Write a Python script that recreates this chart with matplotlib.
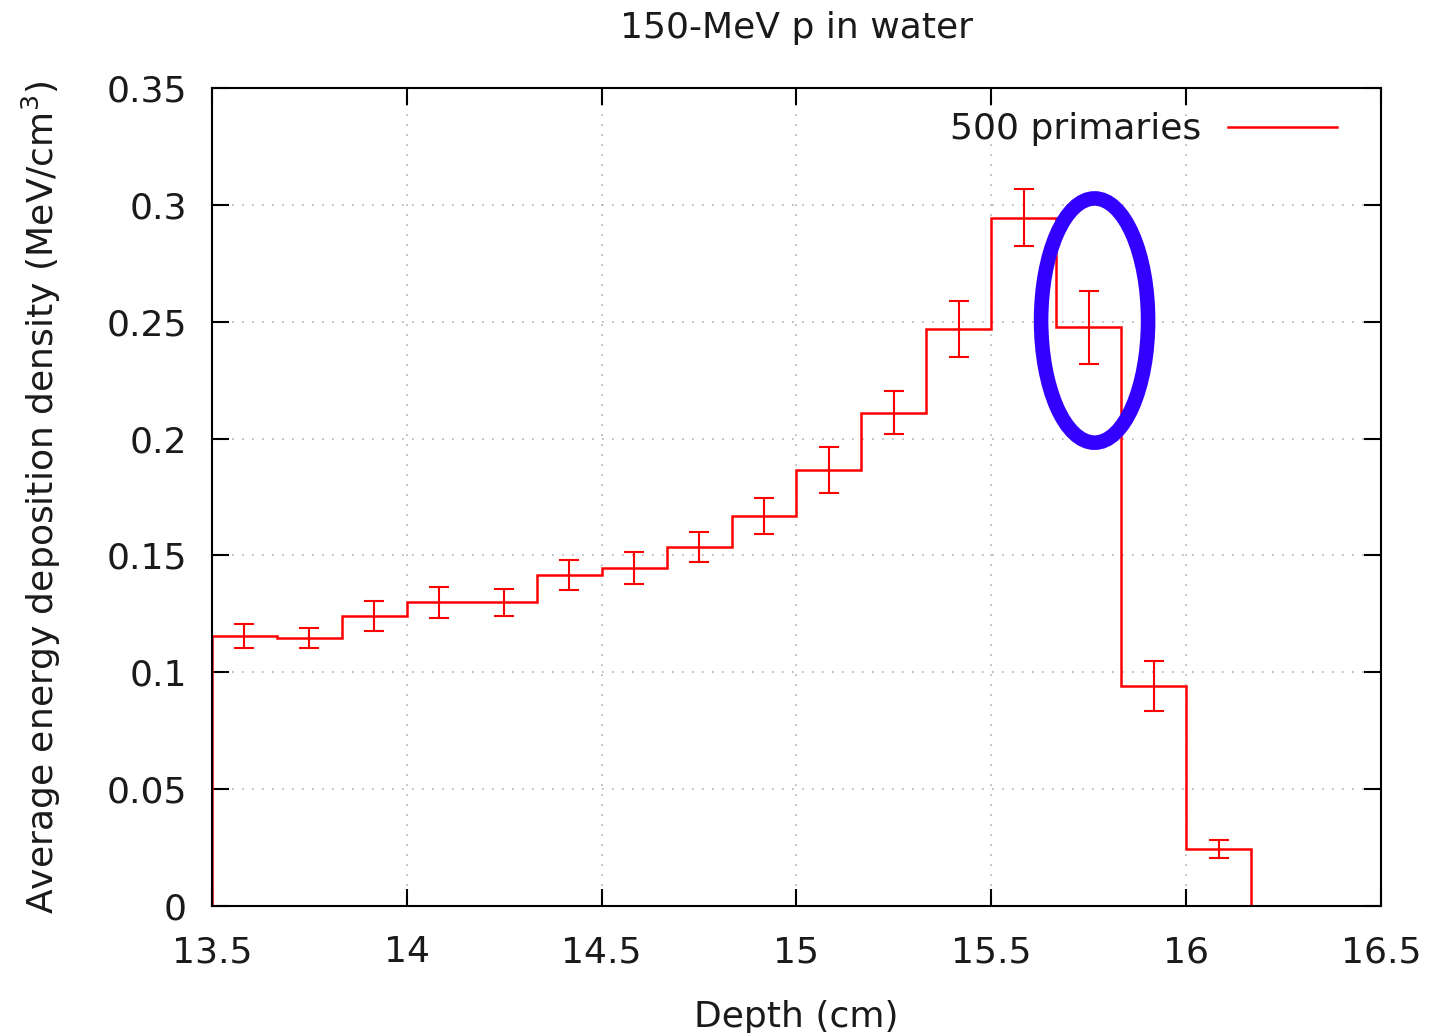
import matplotlib
matplotlib.use("Agg")
import matplotlib.pyplot as plt
from matplotlib.patches import Ellipse
from matplotlib.lines import Line2D
from matplotlib.ticker import FuncFormatter

# ---- data ----
edges = [13.5, 13.6667, 13.8333, 14.0, 14.1667, 14.3333, 14.5, 14.6667, 14.8333,
         15.0, 15.1667, 15.3333, 15.5, 15.6667, 15.8333, 16.0, 16.1667]
centers = [13.5833, 13.75, 13.9167, 14.0833, 14.25, 14.4167, 14.5833, 14.75,
           14.9167, 15.0833, 15.25, 15.4167, 15.5833, 15.75, 15.9167, 16.0833]
values = [0.1155, 0.1147, 0.1240, 0.1300, 0.1300, 0.1416, 0.1446, 0.1536,
          0.1669, 0.1866, 0.2110, 0.2469, 0.2944, 0.2477, 0.0941, 0.0244]
errors = [0.0050, 0.0043, 0.0065, 0.0066, 0.0058, 0.0066, 0.0068, 0.0064,
          0.0077, 0.0100, 0.0092, 0.0118, 0.0122, 0.0156, 0.0107, 0.0040]
xticks = [13.5, 14, 14.5, 15, 15.5, 16, 16.5]
yticks = [0, 0.05, 0.1, 0.15, 0.2, 0.25, 0.3, 0.35]
highlight_center = (15.765, 0.2505)
highlight_size = (0.2746, 0.1045)

txt = '#1a1a1a'
plt.rcParams['font.family'] = ['DejaVu Sans']
plt.rcParams['text.color'] = txt
plt.rcParams['axes.labelcolor'] = txt
fig = plt.figure(figsize=(14.53, 10.33), dpi=100)
ax = fig.add_axes([212/1453, 1-906/1033, (1381-212)/1453, (906-88)/1033])

red = '#ff0000'
ax.stairs(values, edges, baseline=0, color=red, linewidth=1.8, label='500 primaries')
ax.errorbar(centers, values, yerr=errors, fmt='none', ecolor=red,
            elinewidth=1.5, capsize=7.5, capthick=1.5)

ell = Ellipse(highlight_center, highlight_size[0], highlight_size[1],
              fill=False, edgecolor='#3300ff', linewidth=10.5, zorder=5)
ax.add_patch(ell)

ax.set_xlim(13.5, 16.5)
ax.set_ylim(0, 0.35)
ax.set_xticks(xticks)
ax.set_yticks(yticks)
ax.yaxis.set_major_formatter(FuncFormatter(lambda v, p: '%g' % v))
ax.xaxis.set_major_formatter(FuncFormatter(lambda v, p: '%g' % v))
ax.tick_params(direction='in', length=12, width=1.5, top=True, right=True,
               labelsize=26, color='black', labelcolor=txt)
ax.tick_params(axis='x', pad=21)
ax.tick_params(axis='y', pad=18)
for s in ax.spines.values():
    s.set_linewidth(1.5)
ax.grid(True, linestyle=(0, (1, 5)), color='#b0b0b0', linewidth=1.2)
ax.set_axisbelow(True)

ax.set_title('150-MeV p in water', fontsize=26, pad=36)
ax.set_xlabel('Depth (cm)', fontsize=26, labelpad=22)
ax.set_ylabel('Average energy deposition density (MeV/cm$^3$)', fontsize=26, labelpad=31)

handle = Line2D([], [], color=red, linewidth=1.8)
ax.legend([handle], ['500 primaries'], loc='upper right', frameon=False,
          markerfirst=False, fontsize=26, handlelength=3.0,
          bbox_to_anchor=(0.99, 1.01), handletextpad=0.75)

fig.savefig('out.png', dpi=100)
